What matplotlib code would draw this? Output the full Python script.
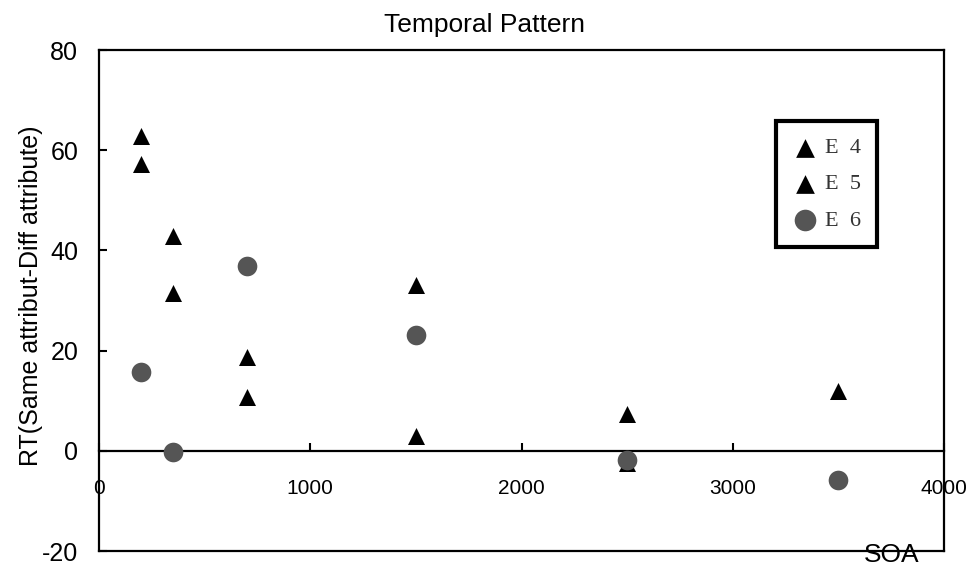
import matplotlib
matplotlib.use('Agg')
import matplotlib.pyplot as plt

plt.rcParams['axes.unicode_minus'] = False

# SOA (ms) and RT difference (ms)
soa_e4 = [200, 350, 700, 1500, 2500]
rt_e4 = [62.9, 42.8, 18.7, 33.1, 7.4]
soa_e5 = [200, 350, 700, 1500, 2500, 3500]
rt_e5 = [57.2, 31.4, 10.8, 3.0, -2.5, 11.9]
soa_e6 = [200, 350, 700, 1500, 2500, 3500]
rt_e6 = [15.8, -0.3, 36.9, 23.2, -1.8, -5.8]
labels = ['E  4', 'E  5', 'E  6']
xticks = [0, 1000, 2000, 3000, 4000]
yticks = [-20, 0, 20, 40, 60, 80]

sans = ['Liberation Sans', 'DejaVu Sans']

fig = plt.figure(figsize=(9.67, 5.67), dpi=100)
ax = fig.add_axes([0.1024, 0.0282, 0.8738, 0.8836])

ax.scatter(soa_e4, rt_e4, marker='^', s=150, color='black', linewidths=0, zorder=3, label=labels[0])
ax.scatter(soa_e5, rt_e5, marker='^', s=150, color='black', linewidths=0, zorder=3, label=labels[1])
ax.scatter(soa_e6, rt_e6, marker='o', s=200, color='#555555', linewidths=0, zorder=4, label=labels[2])

ax.set_xlim(0, 4000)
ax.set_ylim(-20, 80)

# x axis sits on the zero line, box bottom drawn separately
ax.spines['bottom'].set_position(('data', 0))
for sp in ax.spines.values():
    sp.set_linewidth(1.6)
ax.plot([0, 1], [0, 0], transform=ax.transAxes, color='black', lw=1.6, clip_on=False)

ax.set_xticks(xticks)
ax.set_yticks(yticks)
ax.tick_params(axis='x', direction='in', length=6, width=1.5, pad=20)
ax.tick_params(axis='y', direction='in', length=6, width=1.5, pad=15)
for t in ax.get_xticklabels():
    t.set_family(sans)
    t.set_fontsize(15)
for t in ax.get_yticklabels():
    t.set_family(sans)
    t.set_fontsize(18)

ax.set_ylabel('RT(Same attribut-Diff attribute)', fontsize=18, family=sans)
ax.yaxis.set_label_coords(-0.066, 0.51)

fig.text(484 / 967, 1 - 32 / 567, 'Temporal Pattern', fontsize=19, family=sans,
         ha='center', va='baseline')
fig.text(892 / 967, 1 - 555 / 567, 'SOA', fontsize=19, family=sans,
         ha='center', va='center')

leg = ax.legend(loc='upper left', bbox_to_anchor=(0.801, 0.858), fancybox=False,
                edgecolor='black', framealpha=1, handlelength=1.1, handletextpad=0.35,
                borderpad=0.75, labelspacing=0.7, borderaxespad=0, markerscale=1.1,
                prop={'family': ['Liberation Serif', 'DejaVu Serif'], 'size': 16})
leg.get_frame().set_linewidth(3)
for t in leg.get_texts():
    t.set_color('#333333')

fig.savefig('out.png', dpi=100)
